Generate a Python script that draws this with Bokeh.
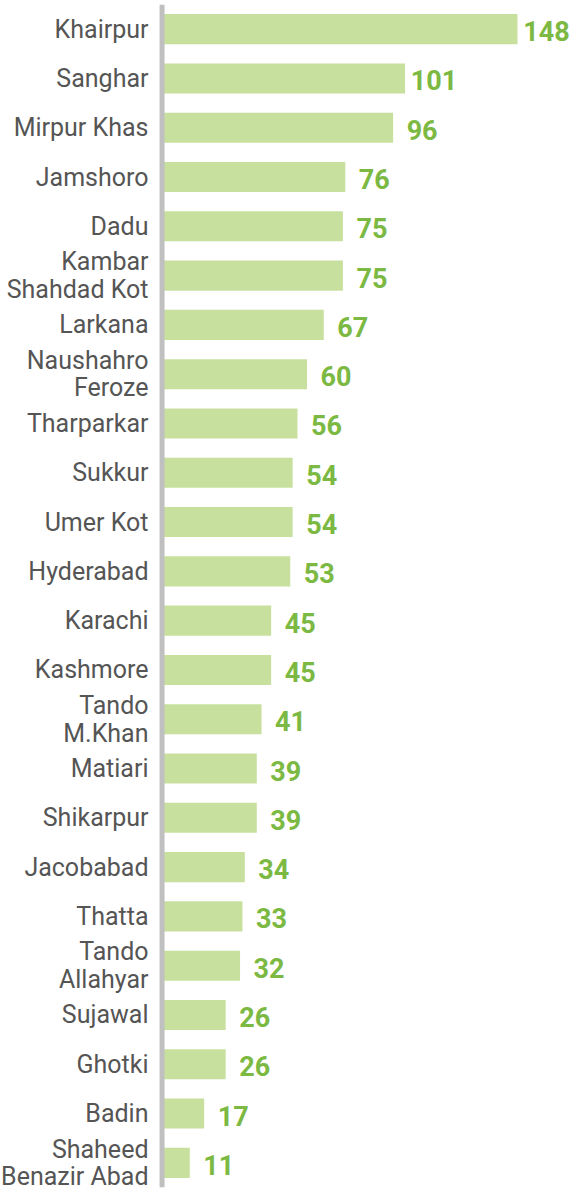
from bokeh.plotting import figure
from bokeh.models import ColumnDataSource, FactorRange, Range1d, Span
from bokeh.core.properties import value
from bokeh.embed import file_html
from bokeh.resources import INLINE

districts = ["Khairpur", "Sanghar", "Mirpur Khas", "Jamshoro", "Dadu",
             "Kambar Shahdad Kot", "Larkana", "Naushahro Feroze", "Tharparkar",
             "Sukkur", "Umer Kot", "Hyderabad", "Karachi", "Kashmore",
             "Tando M.Khan", "Matiari", "Shikarpur", "Jacobabad", "Thatta",
             "Tando Allahyar", "Sujawal", "Ghotki", "Badin", "Shaheed Benazir Abad"]
counts = [148, 101, 96, 76, 75, 75, 67, 60, 56, 54, 54, 53, 45, 45, 41, 39,
          39, 34, 33, 32, 26, 26, 17, 11]
label_lines = {
    "Kambar Shahdad Kot": "Kambar\nShahdad Kot",
    "Naushahro Feroze": "Naushahro\nFeroze",
    "Tando M.Khan": "Tando\nM.Khan",
    "Tando Allahyar": "Tando\nAllahyar",
    "Shaheed Benazir Abad": "Shaheed\nBenazir Abad",
}

src = ColumnDataSource(dict(
    d=districts, v=counts, t=[str(c) for c in counts],
    lab=[label_lines.get(d, d) for d in districts], zero=[0] * len(districts)))

W, H = 574, 1190
left_px = 163          # pixel where x = 0 sits
scale = (517 - 163) / 148.0
p = figure(width=W, height=H, output_backend="svg", toolbar_location=None,
           y_range=FactorRange(factors=list(reversed(districts)), range_padding=0),
           x_range=Range1d(-left_px / scale, (W - left_px) / scale),
           min_border_left=0, min_border_right=0,
           min_border_top=4, min_border_bottom=3)
p.outline_line_color = None
p.grid.visible = False
p.axis.visible = False

p.hbar(y="d", right="v", left=0, height=0.61, source=src,
       fill_color="#c8e09e", line_color=None)
p.add_layout(Span(location=-0.6, dimension="height", line_color="#c0c0c0",
                  line_width=5))
p.text(x="v", y="d", text="t", source=src, x_offset=29, y_offset=2,
       text_align="center", text_baseline="middle", text_font_size="27px",
       text_font_style="bold", text_color="#7cb943", text_font=value("Roboto"))
p.text(x="zero", y="d", text="lab", source=src, x_offset=-15,
       text_align="right", text_baseline="middle", text_font_size="25px",
       text_color="#555555", text_font=value("Roboto"), text_line_height=0.95)

open("out.html", "w").write(file_html(p, INLINE))
